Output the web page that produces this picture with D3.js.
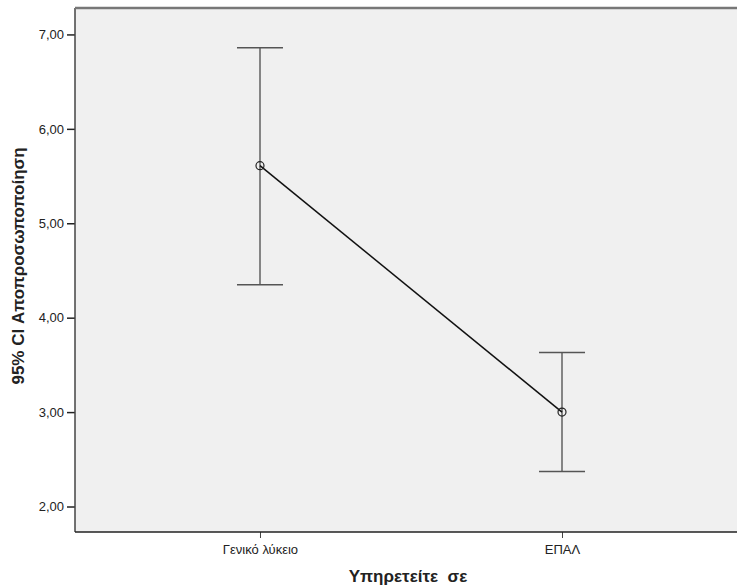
<!DOCTYPE html>
<html>
<head>
<meta charset="utf-8">
<title>95% CI Αποπροσωποποίηση</title>
<script src="https://d3js.org/d3.v7.min.js"></script>
<style>
    body { margin: 0; background: #fff; }
    svg { display: block; font-family: Arial, "Liberation Sans", sans-serif; }
</style>
</head>
<body>
<div id="chart"></div>
<script>
    // categories and CI values (mean, lower, upper)
    const groups = ["Γενικό λύκειο", "ΕΠΑΛ"];
    const means = [5.61, 3.00];
    const lower = [4.35, 2.37];
    const upper = [6.86, 3.63];
    const yTicks = [2, 3, 4, 5, 6, 7];

    const W = 737, H = 586;
    const margin = { top: 8, right: -10, bottom: 54, left: 75 };
    const w = W - margin.left - margin.right;
    const h = H - margin.top - margin.bottom;

    const svg = d3.select("#chart").append("svg")
        .attr("width", W).attr("height", H);

    const g = svg.append("g")
        .attr("transform", "translate(" + margin.left + "," + margin.top + ")");

    const x = d3.scalePoint().domain(groups).range([0, w]).padding(0.6125);
    const y = d3.scaleLinear().domain([1.73, 7.28]).range([h, 0]);

    // plot background
    g.append("rect")
        .attr("width", w).attr("height", h)
        .attr("fill", "#f0f0f0");

    // axes
    const yAxis = g.append("g")
        .call(d3.axisLeft(y).tickValues(yTicks).tickSize(8).tickPadding(3)
            .tickFormat(d => d3.format(".2f")(d).replace(".", ",")));
    yAxis.select(".domain").remove();
    yAxis.selectAll("line").attr("stroke", "#222").attr("stroke-width", 1.5);
    yAxis.selectAll("text").attr("font-size", 13).attr("fill", "#222");

    const xAxis = g.append("g")
        .attr("transform", "translate(0," + h + ")")
        .call(d3.axisBottom(x).tickSize(6).tickPadding(7));
    xAxis.select(".domain").remove();
    xAxis.selectAll("line").attr("stroke", "#444");
    xAxis.selectAll("text").attr("font-size", 13).attr("fill", "#222");

    // frame
    g.append("line").attr("x1", 0).attr("x2", 0).attr("y1", 0).attr("y2", h)
        .attr("stroke", "#444").attr("stroke-width", 1.5);
    g.append("line").attr("x1", 0).attr("x2", w).attr("y1", h).attr("y2", h)
        .attr("stroke", "#222").attr("stroke-width", 1.5);
    g.append("line").attr("x1", 0).attr("x2", w).attr("y1", 0).attr("y2", 0)
        .attr("stroke", "#777").attr("stroke-width", 2.5);

    // error bars
    const capW = 23;
    groups.forEach((c, i) => {
        const cx = x(c);
        g.append("line").attr("x1", cx).attr("x2", cx)
            .attr("y1", y(lower[i])).attr("y2", y(upper[i]))
            .attr("stroke", "#858585").attr("stroke-width", 2);
        [lower[i], upper[i]].forEach(v => {
            g.append("line").attr("x1", cx - capW).attr("x2", cx + capW)
                .attr("y1", y(v)).attr("y2", y(v))
                .attr("stroke", "#555").attr("stroke-width", 1.5);
        });
    });

    // mean line
    g.append("path")
        .datum(groups.map((c, i) => [x(c), y(means[i])]))
        .attr("d", d3.line())
        .attr("fill", "none").attr("stroke", "#111").attr("stroke-width", 1.5);

    g.selectAll("circle.mean")
        .data(groups)
        .enter().append("circle")
        .attr("class", "mean")
        .attr("cx", d => x(d))
        .attr("cy", (d, i) => y(means[i]))
        .attr("r", 4)
        .attr("fill", "none").attr("stroke", "#222").attr("stroke-width", 1.2);

    // titles
    svg.append("text")
        .attr("transform", "translate(24," + (margin.top + h / 2 - 4) + ") rotate(-90)")
        .attr("text-anchor", "middle")
        .attr("font-size", 17).attr("font-weight", "bold").attr("fill", "#222")
        .text("95% CI Αποπροσωποποίηση");

    svg.append("text")
        .attr("x", 408).attr("y", 582)
        .attr("text-anchor", "middle")
        .attr("font-size", 17).attr("font-weight", "bold").attr("fill", "#222")
        .attr("xml:space", "preserve")
        .style("white-space", "pre")
        .text("Υπηρετείτε  σε");
</script>
</body>
</html>
